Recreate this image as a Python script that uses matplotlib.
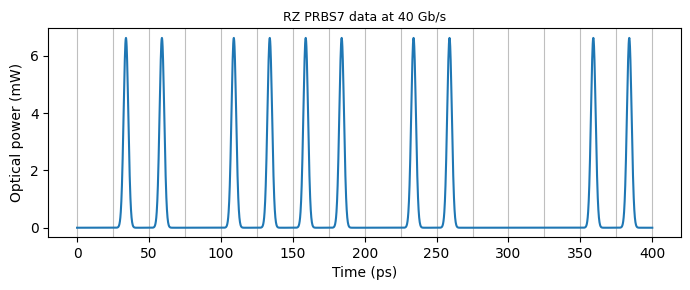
import numpy as np
import matplotlib
matplotlib.use("Agg")
import matplotlib.pyplot as plt

# PRBS7 bit pattern shown (16 bits, 25 ps each at 40 Gb/s)
bits = [0, 1, 1, 0, 1, 1, 1, 1, 0, 1, 1, 0, 0, 0, 1, 1]
bit_period = 25.0      # ps
peak_power = 6.62      # mW
pulse_offset = 9.0     # ps, pulse centre inside bit slot
pulse_fwhm = 3.8       # ps

t = np.linspace(0, bit_period * len(bits), 4001)
sigma = pulse_fwhm / (2 * np.sqrt(2 * np.log(2)))
p = np.zeros_like(t)
for i, b in enumerate(bits):
    if b:
        tc = i * bit_period + pulse_offset
        p += peak_power * np.exp(-0.5 * ((t - tc) / sigma) ** 2)

fig, ax = plt.subplots(figsize=(6.9, 2.9), dpi=100)
for k in range(len(bits) + 1):
    ax.axvline(k * bit_period, color="gray", lw=0.8, alpha=0.5, zorder=0)
ax.plot(t, p, color="C0", lw=1.5)
ax.set_xlabel("Time (ps)")
ax.set_ylabel("Optical power (mW)")
ax.set_title("RZ PRBS7 data at 40 Gb/s", fontsize=9)
ax.set_yticks([0, 2, 4, 6])
ax.set_xticks(np.arange(0, 401, 50))
plt.subplots_adjust(left=0.070, right=0.987, top=0.902, bottom=0.182)
fig.savefig("out.png")
